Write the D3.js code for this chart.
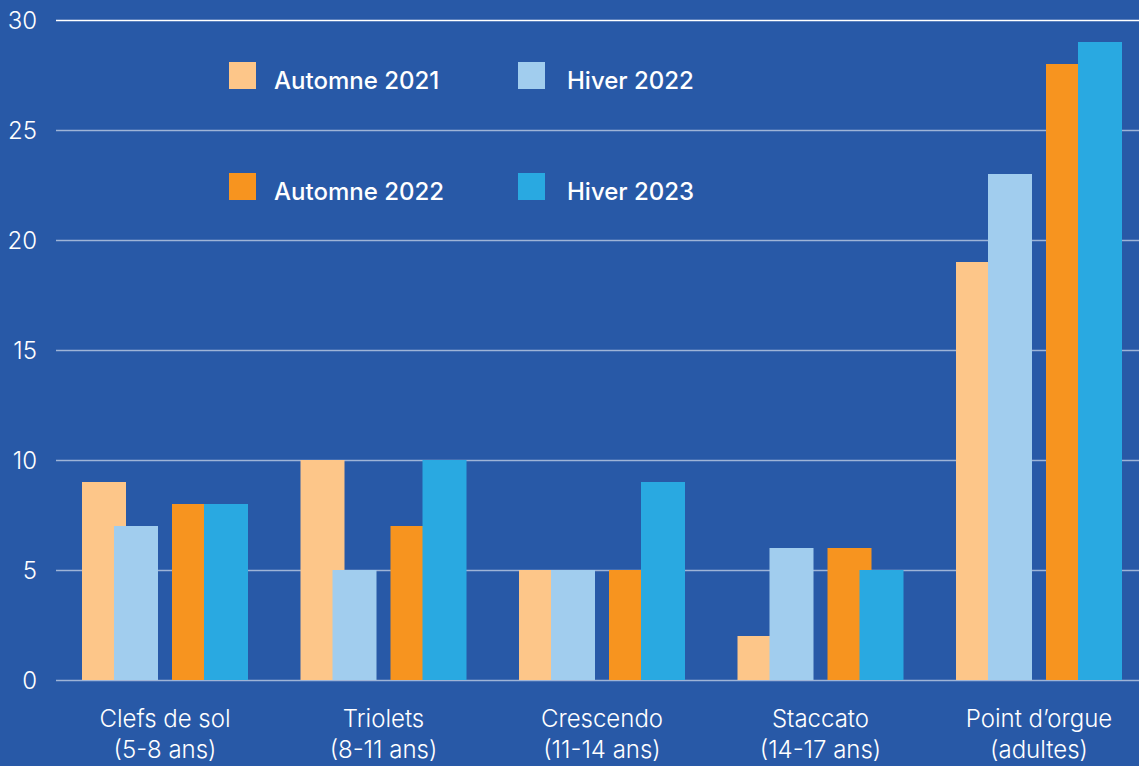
<!DOCTYPE html>
<html>
<head>
<meta charset="utf-8">
<script src="https://cdn.jsdelivr.net/npm/d3@7"></script>
<style>
  html, body { margin: 0; padding: 0; background: #2859a7; }
  svg { display: block; }
</style>
</head>
<body>
<div id="chart"></div>
<script>
const categories = [
  ["Clefs de sol", "(5-8 ans)"],
  ["Triolets", "(8-11 ans)"],
  ["Crescendo", "(11-14 ans)"],
  ["Staccato", "(14-17 ans)"],
  ["Point d\u2019orgue", "(adultes)"]
];
const seriesNames = ["Automne 2021", "Hiver 2022", "Automne 2022", "Hiver 2023"];
const automne2021 = [9, 10, 5, 2, 19];
const hiver2022 = [7, 5, 5, 6, 23];
const automne2022 = [8, 7, 5, 6, 28];
const hiver2023 = [8, 10, 9, 5, 29];
const yTicks = [0, 5, 10, 15, 20, 25, 30];
const colors = ["#fdc689", "#a1cdee", "#f7941f", "#29a9e1"];

const width = 1139;
const height = 766;
const seriesValues = [automne2021, hiver2022, automne2022, hiver2023];

const svg = d3.select("#chart")
  .append("svg")
  .attr("width", width)
  .attr("height", height)
  .style("font-family", "Inter, 'Open Sans', sans-serif");

svg.append("rect")
  .attr("width", width)
  .attr("height", height)
  .attr("fill", "#2859a7");

const y = d3.scaleLinear().domain([0, 30]).range([680, 20]);

const x = d3.scaleBand()
  .domain(categories.map((d, i) => i))
  .range([82, 82 + 5 * 218.5])
  .padding(0);

// bars in a group: pairs overlap a bit, second pair shifted right
const barW = 44;
const sub = (s) => Math.floor(s / 2) * 90 + (s % 2) * 32;

// gridlines
svg.append("g")
  .selectAll("line")
  .data(yTicks)
  .join("line")
  .attr("x1", 56)
  .attr("x2", width)
  .attr("y1", (d) => y(d) + 0.5)
  .attr("y2", (d) => y(d) + 0.5)
  .attr("stroke", "#ffffff")
  .attr("stroke-opacity", (d) => (d === 30 ? 1 : 0.55))
  .attr("stroke-width", 1.5);

// y labels
svg.append("g")
  .selectAll("text")
  .data(yTicks)
  .join("text")
  .attr("x", 37)
  .attr("y", (d) => y(d))
  .attr("dy", "0.36em")
  .attr("text-anchor", "end")
  .attr("fill", "#ffffff")
  .style("font-size", "24px")
  .style("font-weight", 300)
  .text((d) => d);

// bars
seriesValues.forEach((vals, s) => {
  svg.append("g")
    .selectAll("rect")
    .data(vals)
    .join("rect")
    .attr("x", (d, i) => x(i) + sub(s))
    .attr("y", (d) => y(d))
    .attr("width", barW)
    .attr("height", (d) => y(0) - y(d))
    .attr("fill", colors[s]);
});

// category labels
const catG = svg.append("g")
  .selectAll("text")
  .data(categories)
  .join("text")
  .attr("text-anchor", "middle")
  .attr("fill", "#ffffff")
  .style("font-size", "24px")
  .style("font-weight", 300);

catG.each(function (d, i) {
  const cx = x(i) + (sub(3) + barW) / 2;
  d3.select(this).append("tspan").attr("x", cx).attr("y", 727).text(d[0]);
  d3.select(this).append("tspan").attr("x", cx).attr("y", 758).text(d[1]);
});

// legend
const legend = svg.append("g");
seriesNames.forEach((name, s) => {
  const lx = 229 + (s % 2) * 289;
  const ly = 62 + Math.floor(s / 2) * 111;
  legend.append("rect")
    .attr("x", lx)
    .attr("y", ly)
    .attr("width", 27)
    .attr("height", 27)
    .attr("fill", colors[s]);
  legend.append("text")
    .attr("x", lx + 45 + (s % 2) * 4)
    .attr("y", ly + 27)
    .attr("fill", "#ffffff")
    .style("font-size", "24px")
    .style("font-weight", 500)
    .text(name);
});
</script>
</body>
</html>
